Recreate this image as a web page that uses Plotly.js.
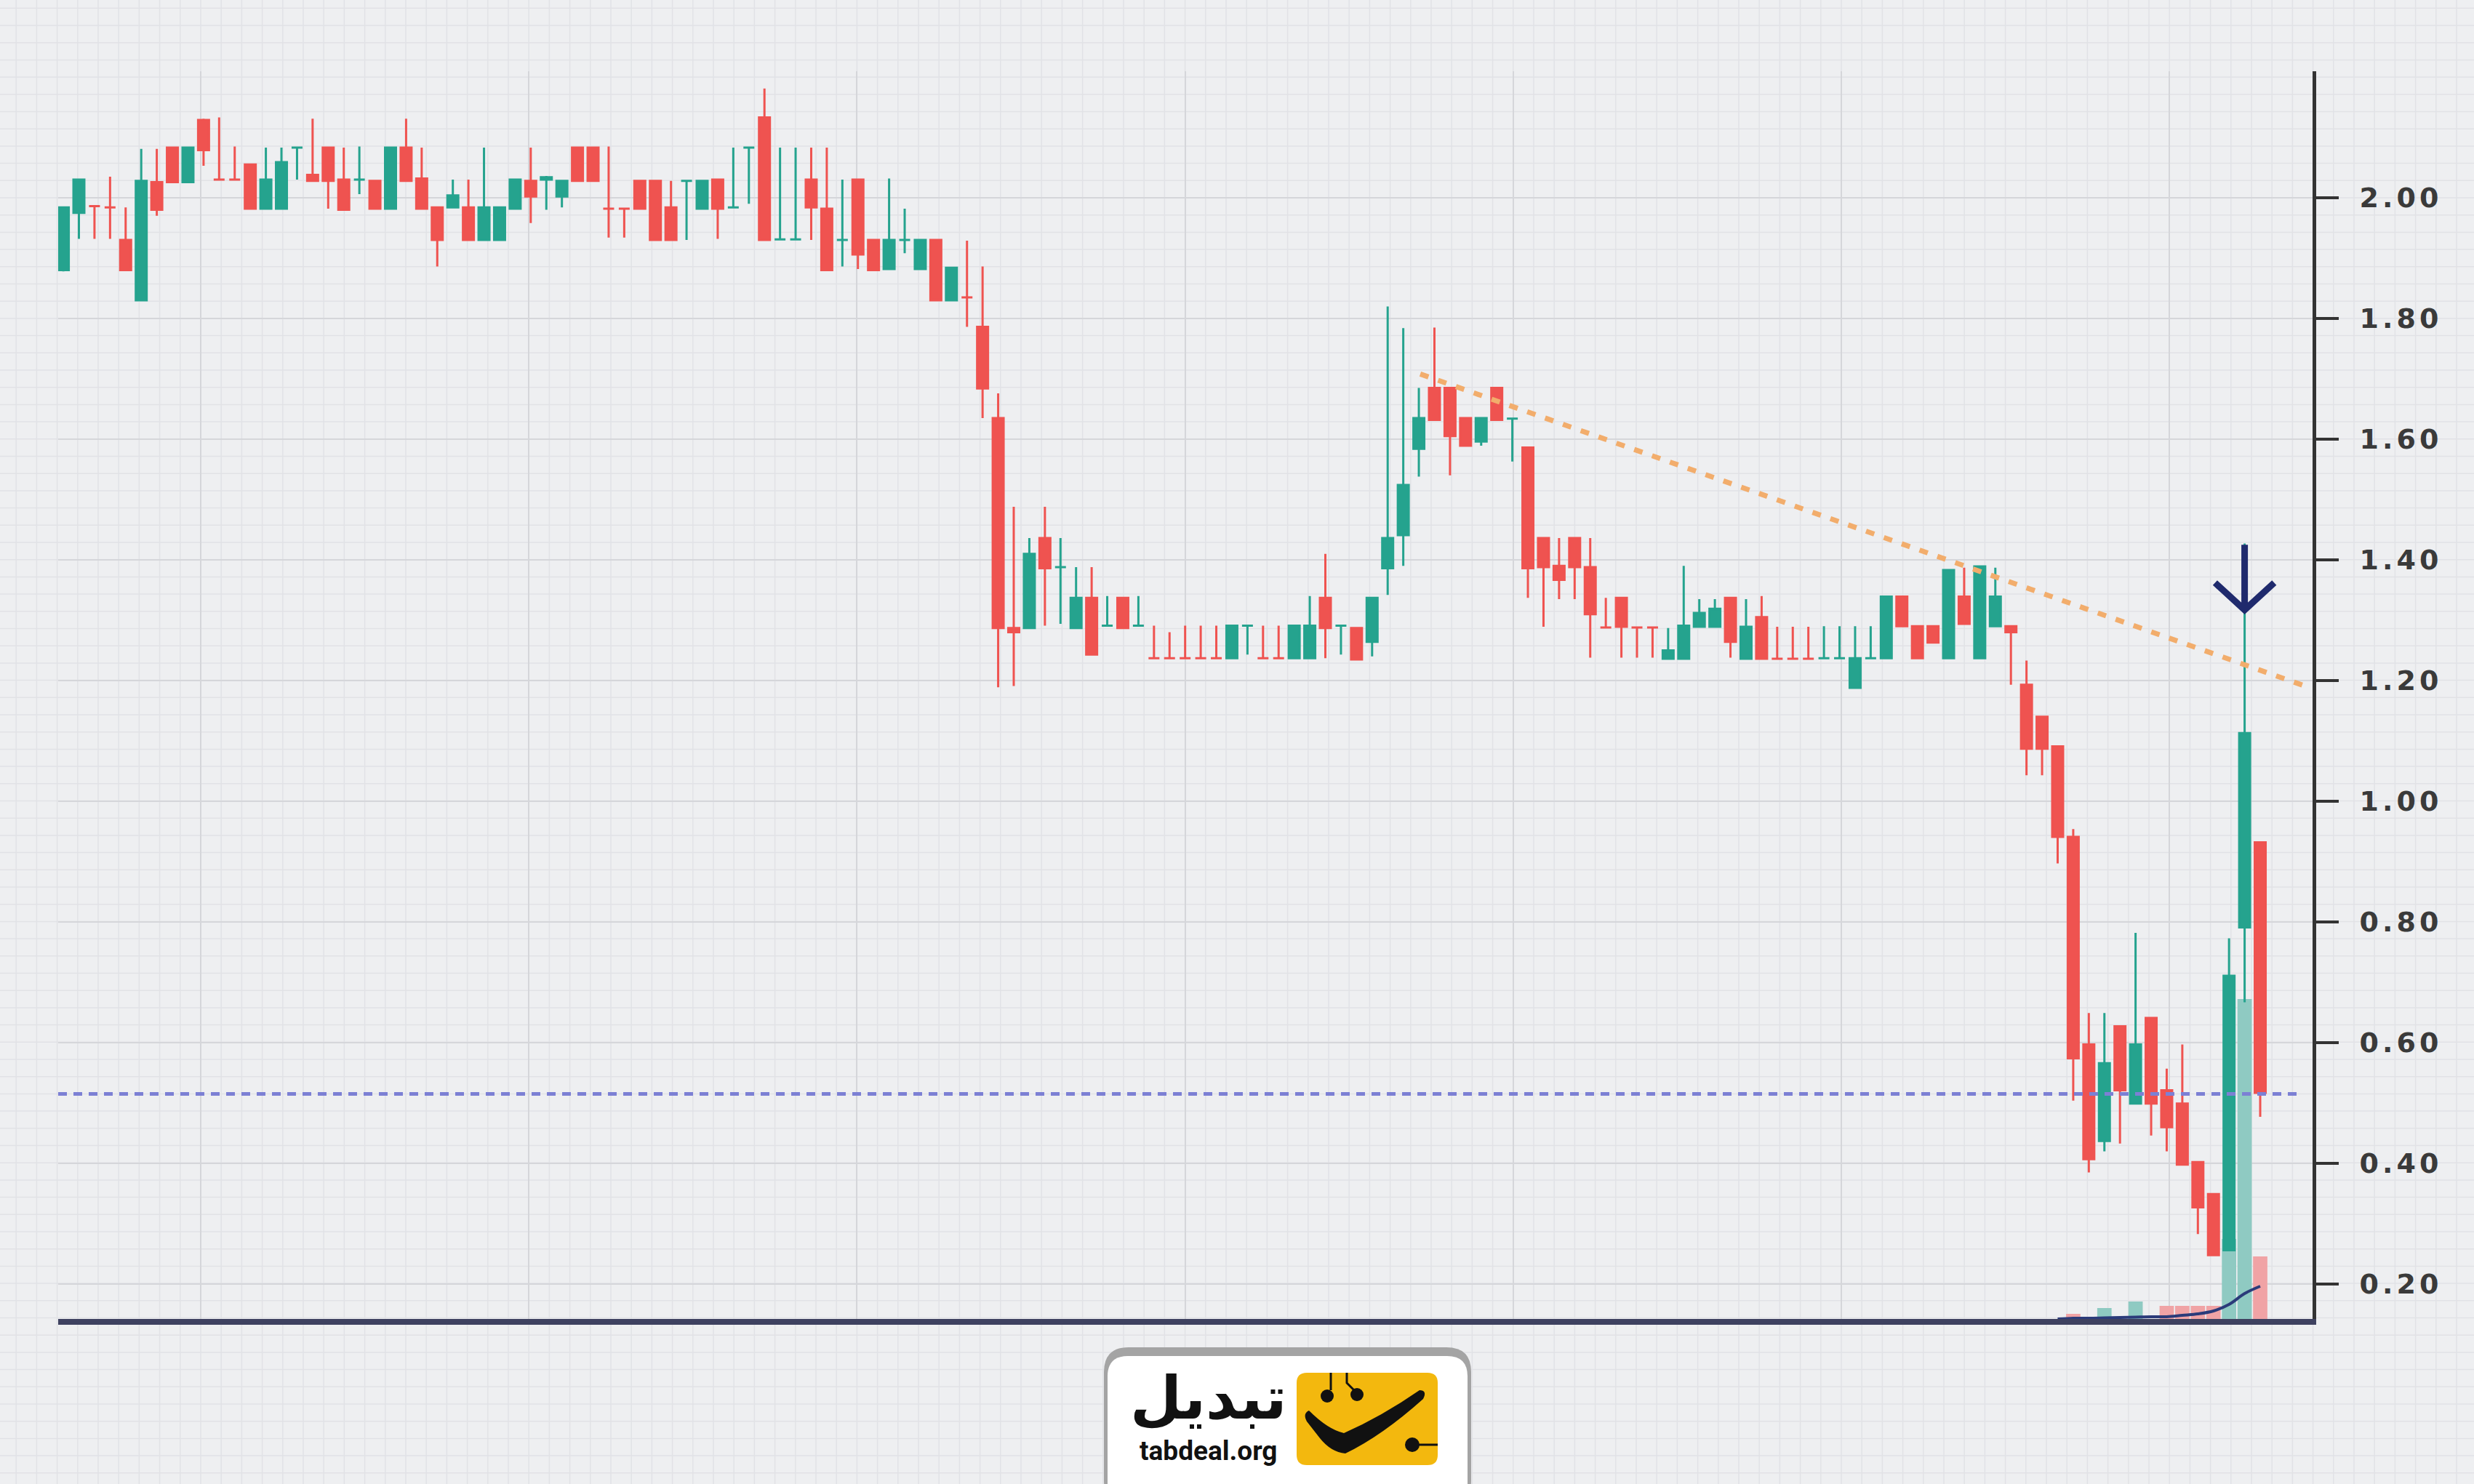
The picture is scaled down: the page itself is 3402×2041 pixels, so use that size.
<!DOCTYPE html>
<html><head><meta charset="utf-8">
<script src="https://cdn.plot.ly/plotly-3.0.1.min.js"></script>
<style>html,body{margin:0;padding:0;background:#eeeff1;}#chart{width:3402px;height:2041px;}</style>
</head><body><div id="chart"></div>
<script>
// ---- price data (one candle per session) ----
const openP = [1.880,1.975,1.986,1.984,1.930,1.830,2.026,2.083,2.026,2.129,
2.030,2.030,2.055,1.982,1.982,2.083,2.038,2.083,2.030,2.030,
2.028,1.982,2.083,2.032,1.984,1.984,1.984,1.930,1.930,1.982,
2.028,2.030,2.002,2.083,2.083,1.982,1.982,2.028,2.028,1.984,
2.028,1.982,2.030,1.984,2.083,2.133,1.931,1.931,2.030,1.982,
1.930,2.030,1.930,1.882,1.930,1.882,1.930,1.830,1.835,1.786,
1.635,1.287,1.287,1.436,1.388,1.287,1.337,1.291,1.337,1.291,
1.237,1.237,1.237,1.237,1.237,1.237,1.291,1.237,1.237,1.237,
1.237,1.337,1.291,1.287,1.264,1.386,1.441,1.584,1.685,1.685,
1.635,1.596,1.685,1.634,1.586,1.436,1.390,1.436,1.388,1.288,
1.337,1.288,1.288,1.236,1.236,1.289,1.289,1.337,1.236,1.305,
1.236,1.236,1.236,1.237,1.237,1.188,1.237,1.237,1.339,1.290,
1.290,1.237,1.339,1.237,1.290,1.290,1.193,1.140,1.091,0.941,
0.597,0.437,0.627,0.499,0.641,0.521,0.499,0.402,0.349,0.256,
0.791,0.932];
const highP = [1.985,2.031,1.987,2.035,1.984,2.081,2.081,2.083,2.083,2.131,
2.133,2.085,2.055,2.083,2.083,2.083,2.131,2.083,2.083,2.085,
2.028,2.083,2.131,2.083,1.984,2.030,2.030,2.083,1.984,2.030,
2.083,2.036,2.028,2.083,2.083,2.085,1.982,2.028,2.028,2.028,
2.028,2.028,2.030,2.083,2.083,2.181,2.083,2.083,2.083,2.083,
2.030,2.030,1.930,2.032,1.982,1.930,1.930,1.884,1.929,1.886,
1.676,1.488,1.436,1.488,1.436,1.388,1.388,1.340,1.337,1.340,
1.291,1.280,1.291,1.291,1.291,1.291,1.291,1.291,1.291,1.291,
1.340,1.410,1.291,1.287,1.337,1.820,1.784,1.685,1.785,1.685,
1.635,1.635,1.685,1.634,1.586,1.436,1.436,1.436,1.436,1.337,
1.337,1.288,1.288,1.287,1.390,1.335,1.335,1.337,1.335,1.340,
1.289,1.289,1.289,1.290,1.290,1.290,1.290,1.339,1.339,1.290,
1.290,1.383,1.387,1.389,1.387,1.290,1.233,1.140,1.091,0.954,
0.649,0.649,0.627,0.782,0.641,0.557,0.597,0.402,0.349,0.773,
1.427,0.932];
const lowP = [1.878,1.932,1.932,1.932,1.880,1.830,1.970,2.026,2.026,2.053,
2.029,2.029,1.982,1.982,1.982,2.030,2.028,1.982,1.980,2.006,
1.982,1.982,2.028,1.982,1.886,1.984,1.930,1.930,1.930,1.982,
1.958,1.980,1.984,2.028,2.028,1.934,1.934,1.982,1.930,1.930,
1.930,1.982,1.932,1.984,1.990,1.930,1.931,1.931,1.930,1.880,
1.886,1.882,1.880,1.882,1.908,1.882,1.830,1.830,1.786,1.635,
1.189,1.191,1.287,1.291,1.294,1.287,1.243,1.291,1.287,1.291,
1.237,1.237,1.237,1.237,1.237,1.237,1.243,1.237,1.237,1.237,
1.237,1.237,1.243,1.235,1.240,1.342,1.390,1.538,1.632,1.540,
1.589,1.589,1.632,1.563,1.337,1.289,1.335,1.335,1.238,1.288,
1.238,1.238,1.238,1.236,1.236,1.289,1.289,1.238,1.236,1.236,
1.236,1.236,1.236,1.237,1.237,1.188,1.237,1.237,1.290,1.237,
1.263,1.237,1.294,1.237,1.290,1.193,1.043,1.043,0.897,0.504,
0.385,0.420,0.433,0.499,0.446,0.420,0.398,0.283,0.248,0.256,
0.667,0.477];
const closeP = [1.984,2.030,1.986,1.984,1.880,2.028,1.980,2.026,2.083,2.079,
2.030,2.030,1.982,2.030,2.059,2.083,2.028,2.028,1.980,2.030,
1.982,2.083,2.028,1.982,1.930,2.004,1.930,1.984,1.984,2.030,
2.002,2.034,2.028,2.028,2.028,1.982,1.982,1.982,1.930,1.930,
2.028,2.028,1.982,1.984,2.083,1.930,1.931,1.931,1.984,1.880,
1.930,1.906,1.880,1.930,1.930,1.930,1.830,1.884,1.835,1.684,
1.287,1.280,1.410,1.386,1.388,1.337,1.243,1.291,1.287,1.291,
1.237,1.237,1.237,1.237,1.237,1.291,1.291,1.237,1.237,1.291,
1.291,1.287,1.291,1.235,1.337,1.436,1.524,1.635,1.632,1.605,
1.589,1.635,1.632,1.634,1.386,1.388,1.367,1.388,1.310,1.288,
1.289,1.288,1.288,1.250,1.291,1.312,1.319,1.264,1.289,1.236,
1.236,1.236,1.236,1.237,1.237,1.237,1.237,1.339,1.290,1.237,
1.263,1.383,1.294,1.389,1.339,1.280,1.087,1.087,0.941,0.574,
0.407,0.566,0.521,0.597,0.499,0.460,0.398,0.327,0.248,0.711,
1.113,0.517];
// ---- volume (relative units) ----
const volume = [0,0,0,0,0,0,0,0,0,0, 0,0,0,0,0,0,0,0,0,0,
0,0,0,0,0,0,0,0,0,0, 0,0,0,0,0,0,0,0,0,0,
0,0,0,0,0,0,0,0,0,0, 0,0,0,0,0,0,0,0,0,0,
0,0,0,0,0,0,0,0,0,0, 0,0,0,0,0,0,0,0,0,0,
0,0,0,0,0,0,0,0,0,0, 0,0,0,0,0,0,0,0,0,0,
0,0,0,0,0,0,0,0,0,0, 0,0,0,0,0,0,0,0,0,0,
0,0,0,0,0,0,0,0,0,7, 0,15,0,24,0,18,18,18,18,110,
440,86];
const volMAStart = 128;
const volMA = [0,1,1,1.5,2,2.5,3,3,5,7,11,20,35,45];
// ---- drawn levels ----
const trendX = [87.09, 143.98];
const trendY = [1.708, 1.190];
const supportLevel = 0.515;
const supportX = [-0.33, 143.7];
const priceTicks = [0.20,0.40,0.60,0.80,1.00,1.20,1.40,1.60,1.80,2.00];

const dayIndex = openP.map((_, i) => i);
const UP = '#25a38e', DN = '#ef5350';
const volColors = dayIndex.map(i => closeP[i] >= openP[i] ? '#8fcac2' : '#f0a3a5');
const maX = volMA.map((_, k) => volMAStart + k);

// ---- geometry helpers (pixel -> paper) ----
const L = 80, R = 3180, T = 98, B = 1814;
const pxX = p => (p - L) / (R - L), pxY = p => (B - p) / (B - T);
const P = (x, y) => pxX(x) + ',' + pxY(y);
function rrect(x0, y0, x1, y1, r) {
  return 'M' + P(x0 + r, y0) + ' L' + P(x1 - r, y0) + ' Q' + P(x1, y0) + ' ' + P(x1, y0 + r) +
    ' L' + P(x1, y1 - r) + ' Q' + P(x1, y1) + ' ' + P(x1 - r, y1) +
    ' L' + P(x0 + r, y1) + ' Q' + P(x0, y1) + ' ' + P(x0, y1 - r) +
    ' L' + P(x0, y0 + r) + ' Q' + P(x0, y0) + ' ' + P(x0 + r, y0) + ' Z';
}
const shapes = [];
// graph-paper background
for (let p = 22.2; p < 3402; p += 28.2)
  shapes.push({type:'line', xref:'paper', yref:'paper', x0:pxX(p), x1:pxX(p), y0:pxY(0), y1:pxY(2041), line:{color:'#e1e2e6', width:1.5}, layer:'below'});
for (let q = 11.3; q < 2041; q += 23.7)
  shapes.push({type:'line', xref:'paper', yref:'paper', x0:pxX(0), x1:pxX(3402), y0:pxY(q), y1:pxY(q), line:{color:'#e1e2e6', width:1.5}, layer:'below'});
// arrow over the spike candle
shapes.push({type:'path', xref:'x', yref:'y2', path:'M 140,1.425 L 140,1.317 M 138.1,1.362 L 140,1.317 L 141.9,1.362', line:{color:'#1f2a6d', width:9}});
// logo box
shapes.push({type:'path', xref:'paper', yref:'paper', path:rrect(1518,1853,2023,2070,34), fillcolor:'#a4a4a4', line:{width:0}});
shapes.push({type:'path', xref:'paper', yref:'paper', path:rrect(1523,1865,2018,2070,28), fillcolor:'#ffffff', line:{width:0}});
shapes.push({type:'path', xref:'paper', yref:'paper', path:rrect(1783,1888,1977,2015,14), fillcolor:'#f3b80e', line:{width:0}});
shapes.push({type:'path', xref:'paper', yref:'paper',
  path:'M'+P(1800,1940)+' Q'+P(1826,1966)+' '+P(1848,1971)+' Q'+P(1900,1948)+' '+P(1952,1912)+
  ' Q'+P(1963,1912)+' '+P(1957,1924)+' Q'+P(1900,1975)+' '+P(1850,1999)+' Q'+P(1830,1997)+' '+P(1815,1978)+
  ' L'+P(1797,1955)+' Q'+P(1791,1944)+' '+P(1800,1940)+' Z', fillcolor:'#111111', line:{width:0}});
function circ(cx, cy, r) { return {type:'circle', xref:'paper', yref:'paper', x0:pxX(cx-r), x1:pxX(cx+r), y0:pxY(cy+r), y1:pxY(cy-r), fillcolor:'#111111', line:{width:0}}; }
shapes.push(circ(1825,1920,9), circ(1866,1918,9), circ(1942,1987,10));
shapes.push({type:'path', xref:'paper', yref:'paper', path:'M'+P(1830,1888)+' L'+P(1830,1912), line:{color:'#111', width:3}});
shapes.push({type:'path', xref:'paper', yref:'paper', path:'M'+P(1852,1888)+' L'+P(1852,1902)+' L'+P(1862,1912), line:{color:'#111', width:3}});
shapes.push({type:'path', xref:'paper', yref:'paper', path:'M'+P(1950,1987)+' L'+P(1977,1987), line:{color:'#111', width:3}});

const annotations = [
  {text:'تبدیل', xref:'paper', yref:'paper', x:pxX(1662), y:pxY(1922), xanchor:'center', yanchor:'middle', showarrow:false,
   font:{family:'DejaVu Sans', size:82, color:'#111111', weight:'bold'}},
  {text:'tabdeal.org', xref:'paper', yref:'paper', x:pxX(1662), y:pxY(1996), xanchor:'center', yanchor:'middle', showarrow:false,
   font:{family:'Roboto', size:37, color:'#111111', weight:'bold'}}
];

const traces = [
  {type:'bar', x:dayIndex, y:volume, xaxis:'x', yaxis:'y', marker:{color:volColors, line:{width:0}}, width:0.92, hoverinfo:'skip'},
  {type:'scatter', mode:'lines', x:maX, y:volMA, xaxis:'x', yaxis:'y', line:{color:'#2b3b7a', width:4, shape:'spline'}, hoverinfo:'skip'},
  {type:'candlestick', x:dayIndex, open:openP, high:highP, low:lowP, close:closeP, xaxis:'x', yaxis:'y2',
   increasing:{line:{color:UP, width:3}, fillcolor:UP}, decreasing:{line:{color:DN, width:3}, fillcolor:DN}, whiskerwidth:0},
  {type:'scatter', mode:'lines', x:trendX, y:trendY, xaxis:'x', yaxis:'y2', line:{color:'#f2ad6c', width:7, dash:'12px,14px'}, hoverinfo:'skip'},
  {type:'scatter', mode:'lines', x:supportX, y:[supportLevel, supportLevel], xaxis:'x', yaxis:'y2', line:{color:'#7c80d4', width:5, dash:'12px,9px'}, hoverinfo:'skip'}
];

const layout = {
  width:3402, height:2041, showlegend:false,
  paper_bgcolor:'#eeeff1', plot_bgcolor:'#eeeff1',
  boxgap:0.3, boxgroupgap:0,
  margin:{l:L, r:3402-R, t:T, b:2041-B, pad:0},
  xaxis:{range:[-0.33,144.36], rangeslider:{visible:false}, showgrid:true, gridcolor:'#d5d6da', gridwidth:2,
    tickmode:'linear', tick0:8.82, dtick:21.06, showticklabels:false, ticks:'', zeroline:false,
    showline:true, linecolor:'#3e4160', linewidth:8, fixedrange:true},
  yaxis:{range:[0,1716], visible:false, showgrid:false, zeroline:false, fixedrange:true},
  yaxis2:{overlaying:'y', side:'right', anchor:'x', range:[0.1422,2.2096], tickvals:priceTicks, tickformat:'.2f',
    showgrid:true, gridcolor:'#d5d6da', gridwidth:2, zeroline:false,
    showline:true, linecolor:'#333333', linewidth:5, ticks:'outside', ticklen:31, tickwidth:4, tickcolor:'#333333',
    ticklabelstandoff:21, tickfont:{family:'DejaVu Sans', size:38, color:'#3a3a3a', weight:'bold'}, fixedrange:true},
  shapes:shapes, annotations:annotations
};
Plotly.newPlot('chart', traces, layout, {displayModeBar:false, staticPlot:true}).then(function () {
  document.querySelectorAll('g.y2tick text').forEach(function (t) { t.style.letterSpacing = '5px'; });
});
</script></body></html>
